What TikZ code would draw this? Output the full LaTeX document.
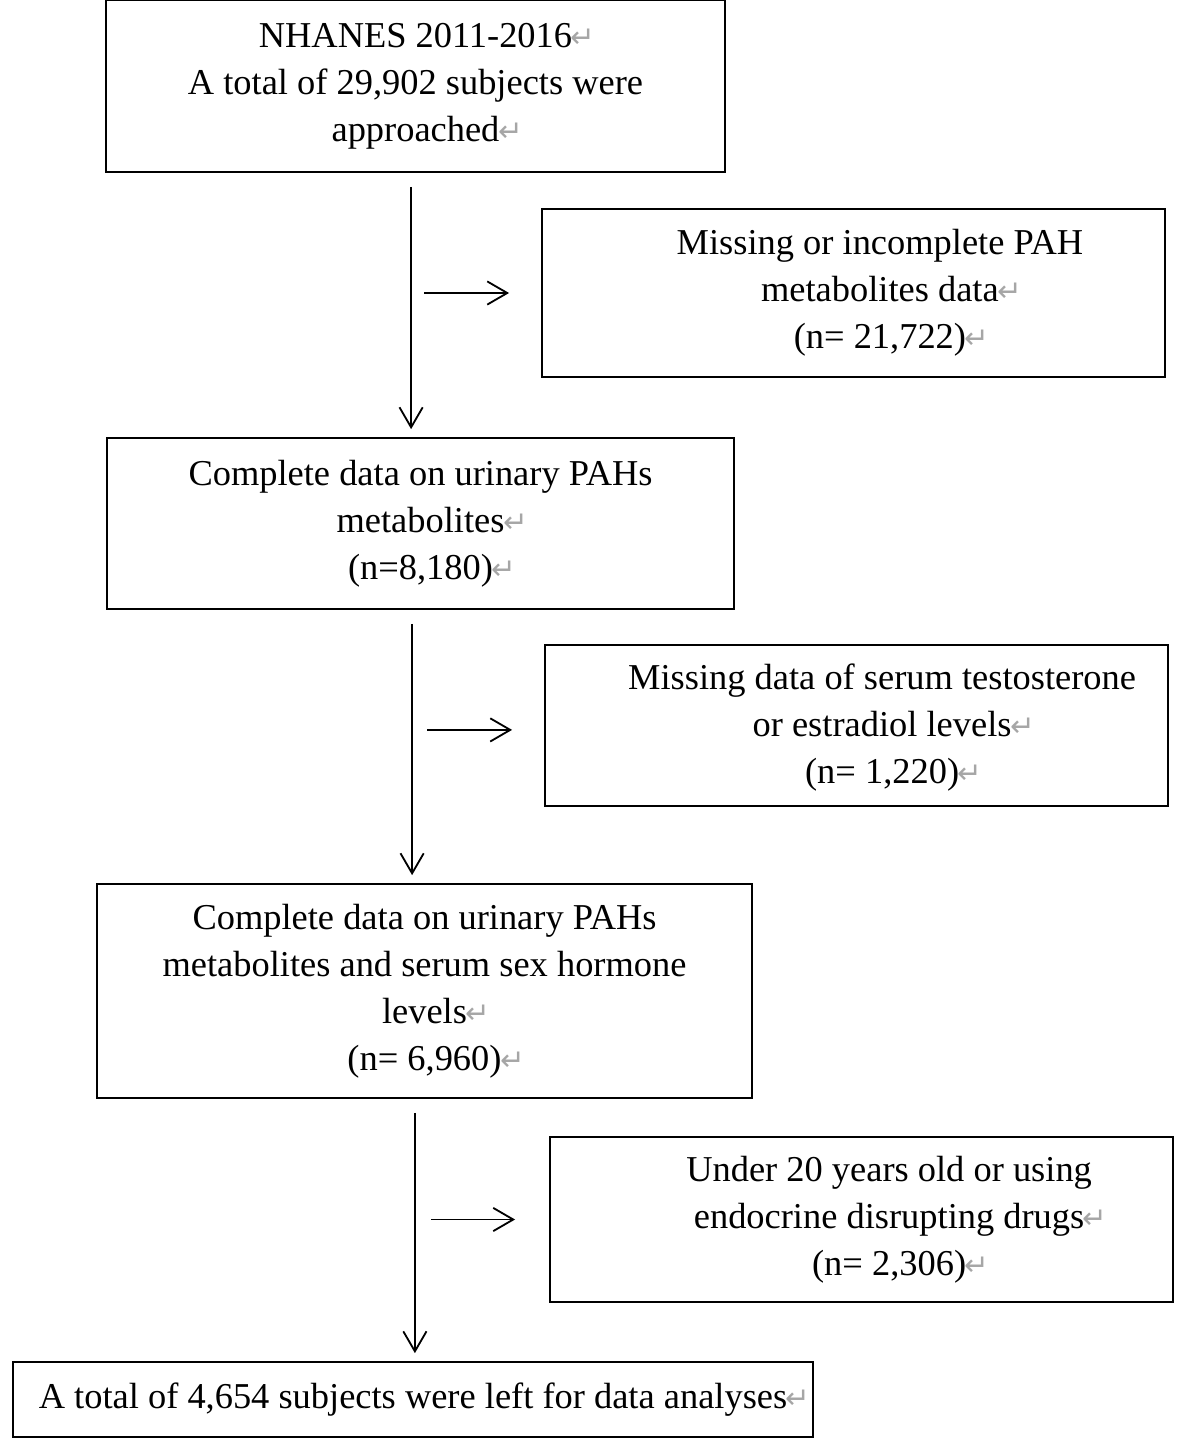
\documentclass[tikz,border=0pt]{standalone}
\usepackage{fontspec}
\setmainfont{Liberation Serif}
\newfontfamily\symfont{DejaVu Sans}
\usepackage{xcolor}
\usetikzlibrary{positioning,calc,arrows.meta}

\newcommand{\retmark}{\rlap{\textcolor{black!35}{\symfont\fontsize{21pt}{21pt}\selectfont\kern-1pt↵}}}

\tikzset{
  stagebox/.style={draw, line width=1.2pt, inner sep=0pt},
  txt/.style={align=center, font=\fontsize{25.9pt}{33.4pt}\selectfont},
  flow/.style={line width=1.3pt, -{Straight Barb[length=0.5cm, width=0.58cm]}, shorten <=0.35cm, shorten >=0.2cm},
  side/.style={line width=1.3pt, -{Straight Barb[length=0.5cm, width=0.58cm]}}
}

\begin{document}
\begin{tikzpicture}[x=0.025cm, y=-0.025cm]
\useasboundingbox (0,0) rectangle (1181,1439);

% main stages
\node[stagebox, txt, minimum width=15.475cm, minimum height=4.3cm] (start) at (415.5,86)
  {NHANES 2011-2016\retmark\\A total of 29,902 subjects were\\approached\retmark};
\node[stagebox, txt, minimum width=15.675cm, minimum height=4.275cm] (pahs) at (420.5,523.5)
  {Complete data on urinary PAHs\\metabolites\retmark\\(n=8,180)\retmark};
\node[stagebox, txt, minimum width=16.375cm, minimum height=5.35cm] (hormone) at (424.5,991)
  {Complete data on urinary PAHs\\metabolites and serum sex hormone\\levels\retmark\\(n= 6,960)\retmark};
\node[stagebox, txt, minimum width=20cm, minimum height=1.875cm] (final) at (413,1399.5)
  {A total of 4,654 subjects were left for data analyses\retmark};

% exclusions
\node[stagebox, minimum width=15.575cm, minimum height=4.2cm] (miss1) at (853.5,293) {};
\node[txt] (miss1t) at ([xshift=0.66cm]miss1.center)
  {Missing or incomplete PAH\\metabolites data\retmark\\(n= 21,722)\retmark};
\node[stagebox, minimum width=15.575cm, minimum height=4.025cm] (miss2) at (856.5,725.5) {};
\node[txt] (miss2t) at ([xshift=0.64cm, yshift=-0.05cm]miss2.center)
  {Missing data of serum testosterone\\or estradiol levels\retmark\\(n= 1,220)\retmark};
\node[stagebox, minimum width=15.575cm, minimum height=4.125cm] (miss3) at (861.5,1219.5) {};
\node[txt] (miss3t) at ([xshift=0.69cm]miss3.center)
  {Under 20 years old or using\\endocrine disrupting drugs\retmark\\(n= 2,306)\retmark};

% down arrows
\draw[flow] ([xshift=-0.11cm]start.south) -- ([xshift=-0.11cm]start.south |- pahs.north);
\draw[flow] ([xshift=-0.21cm]pahs.south) -- ([xshift=-0.21cm]pahs.south |- hormone.north);
\draw[flow] ([xshift=-0.24cm]hormone.south) -- ([xshift=-0.24cm]hormone.south |- final.north);

% side arrows
\coordinate[left=0.8cm of miss1] (h1e);
\coordinate[left=2.125cm of h1e] (h1s);
\coordinate[left=0.8cm of miss2, yshift=-0.11cm] (h2e);
\coordinate[left=2.125cm of h2e] (h2s);
\coordinate[left=0.85cm of miss3] (h3e);
\coordinate[left=2.1cm of h3e] (h3s);
\draw[side] (h1s) -- (h1e);
\draw[side] (h2s) -- (h2e);
\draw[side] (h3s) -- (h3e);
\end{tikzpicture}
\end{document}
